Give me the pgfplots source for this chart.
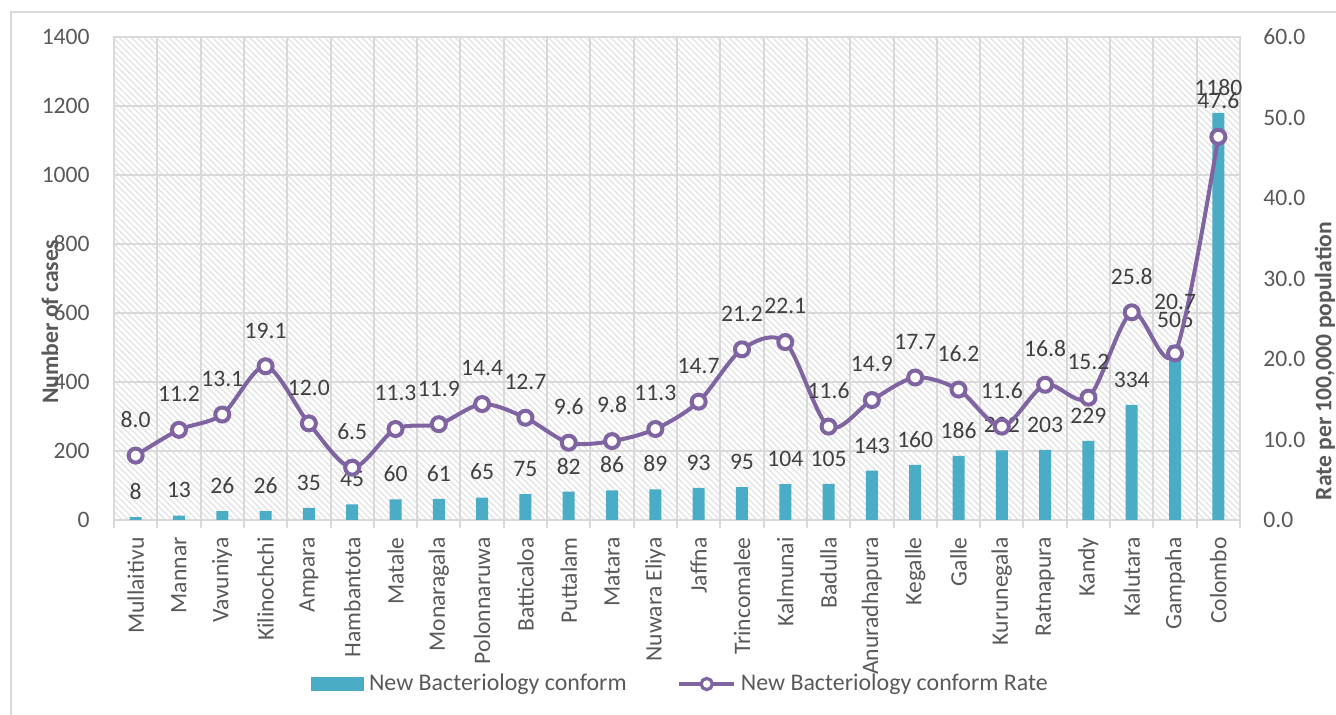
\documentclass[border=0pt]{standalone}
\usepackage{pgfplots}
\pgfplotsset{compat=1.18}
\usepackage{fontspec}
\setmainfont{Carlito}
\usetikzlibrary{patterns.meta}
\definecolor{barcol}{HTML}{4BACC6}
\definecolor{linecol}{HTML}{8064A2}
\definecolor{labgray}{HTML}{595959}
\definecolor{datgray}{HTML}{404040}
\definecolor{gridgray}{HTML}{D9D9D9}
\pgfplotstableread{
x y s
0 8.0 0
1 11.2 0
2 13.1 0
3 19.1 0
4 12.0 0
5 6.5 0
6 11.3 0
7 11.9 0
8 14.4 0
9 12.7 0
10 9.6 0
11 9.8 0
12 11.3 0
13 14.7 0
14 21.2 0
15 22.1 0
16 11.6 0
17 14.9 0
18 17.7 0
19 16.2 0
20 11.6 0
21 16.8 0
22 15.2 0
23 25.8 0
24 20.7 8
25 47.6 0
}\ratetable
\begin{document}
\fontsize{11.8}{14}\selectfont
\begin{tikzpicture}[x=1pt,y=1pt]
\useasboundingbox (0,0) rectangle (668,357.5);
\draw[gridgray, line width=0.75pt] (5.5,-5) -- (5.5,351.5) -- (700,351.5);
\begin{axis}[
  at={(57pt,97.5pt)}, anchor=south west, scale only axis,
  width=563pt, height=241.5pt,
  xmin=-0.5, xmax=25.5, ymin=0, ymax=1400,
  ytick={0,200,...,1400},
  xtick={0,...,25},
  xticklabels={Mullaitivu,Mannar,Vavuniya,Kilinochchi,Ampara,Hambantota,Matale,Monaragala,Polonnaruwa,Batticaloa,Puttalam,Matara,Nuwara Eliya,Jaffna,Trincomalee,Kalmunai,Badulla,Anuradhapura,Kegalle,Galle,Kurunegala,Ratnapura,Kandy,Kalutara,Gampaha,Colombo},
  minor xtick={-0.5,0.5,...,25.5},
  xtick pos=bottom, ytick pos=left,
  tick align=outside,
  major tick length=0pt, minor tick length=4pt,
  xminorgrids=true, ymajorgrids=true,
  grid style={gridgray, line width=1pt},
  minor grid style={gridgray, line width=1pt},
  axis line style={gridgray, line width=1pt},
  tick style={gridgray, line width=1pt},
  axis background/.style={fill=white, postaction={pattern={Lines[angle=-45,distance=2.2pt,line width=0.7pt]}, pattern color=gray!20}},
  xticklabel style={rotate=90, anchor=east, inner sep=0pt, text=labgray},
  xticklabel shift=8.5pt,
  yticklabel style={anchor=east, inner sep=0pt, text=labgray},
  yticklabel shift=12pt,
  /pgf/number format/assume math mode=true,
  /pgf/number format/1000 sep={},
  ylabel={\bfseries Number of cases},
  ylabel style={at={(rel axis cs:-0.0568,0.41)}, anchor=center, text=labgray, inner sep=0pt},
  clip=false,
]
\addplot[ybar, bar width=6pt, fill=barcol, draw=none,
  nodes near coords,
  nodes near coords style={anchor=south, inner sep=0pt, yshift=8.5pt, text=datgray}]
  coordinates {(0,8) (1,13) (2,26) (3,26) (4,35) (5,45) (6,60) (7,61) (8,65) (9,75) (10,82) (11,86) (12,89) (13,93) (14,95) (15,104) (16,105) (17,143) (18,160) (19,186) (20,202) (21,203) (22,229) (23,334) (24,506) (25,1180)};
\end{axis}
\begin{axis}[
  at={(57pt,97.5pt)}, anchor=south west, scale only axis,
  width=563pt, height=241.5pt,
  xmin=-0.5, xmax=25.5, ymin=0, ymax=60,
  axis x line=none,
  axis y line*=right,
  y axis line style={draw=none},
  ytick={0,10,...,60},
  major tick length=0pt,
  yticklabel style={anchor=west, inner sep=0pt, text=labgray},
  yticklabel shift=11.5pt,
  /pgf/number format/assume math mode=true,
  /pgf/number format/.cd, fixed, fixed zerofill, precision=1, /pgfplots/.cd,
  ylabel={\bfseries Rate per 100,000 population},
  ylabel style={at={(rel axis cs:1.0755,0.329)}, anchor=center, text=labgray, inner sep=0pt, rotate=0},
  clip=false,
  legend style={at={(rel axis cs:0.5044,-0.3396)}, anchor=center, draw=none, fill=none,
    legend columns=2, text=labgray, inner sep=0pt,
    font=\fontsize{11.95}{14}\selectfont,
    /tikz/every even column/.append style={column sep=23pt},
    nodes={inner sep=2.5pt}},
  legend cell align=left,
]
\addlegendimage{legend image code/.code={\fill[barcol] (0pt,-3.35pt) rectangle (26pt,3.35pt);}}
\addlegendentry{New Bacteriology conform}
\addplot[linecol, line width=2pt, smooth, tension=0.5,
  mark=*, mark size=3.5pt, mark options={fill=white, line width=2pt},
  legend image code/.code={\draw[linecol, line width=1.6pt] (0pt,0pt) -- (27.5pt,0pt); \draw[linecol, line width=1.6pt, fill=white] (13.75pt,0pt) circle (2.8pt);},
  visualization depends on={\thisrow{s} \as \lshift},
  nodes near coords,
  nodes near coords style={anchor=south, inner sep=0pt, yshift=13pt+\lshift pt, text=datgray}]
  table[x=x, y=y] {\ratetable};
\addlegendentry{New Bacteriology conform Rate}
\end{axis}
\end{tikzpicture}
\end{document}
